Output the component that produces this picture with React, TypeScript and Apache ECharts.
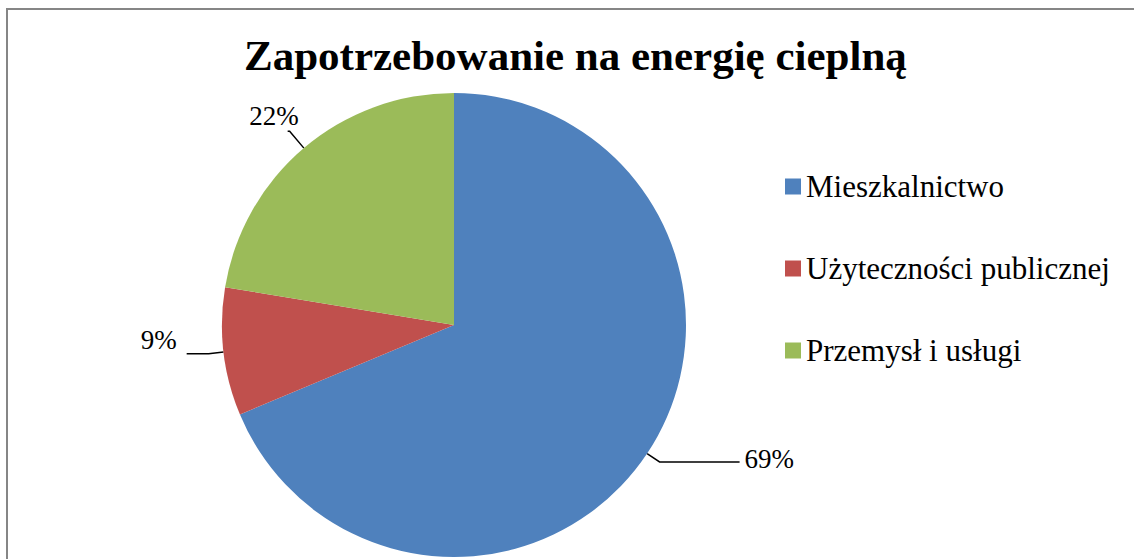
import React, { useEffect, useRef } from "react";
import * as echarts from "echarts";

const titleText = "Zapotrzebowanie na energię cieplną";
const categories = ["Mieszkalnictwo", "Użyteczności publicznej", "Przemysł i usługi"];
const values = [68.7, 8.9, 22.4];
const colors = ["#4F81BD", "#C0504D", "#9BBB59"];
const lineLengths = [
  [15, 80],
  [15, 22],
  [22, 2],
];
const labelShift = [
  [0, -3],
  [-5, -14],
  [16, -15],
];

export default function App() {
  const ref = useRef<HTMLDivElement>(null);
  useEffect(() => {
    if (!ref.current) return;
    const chart = echarts.init(ref.current, undefined, { renderer: "svg" });
    const font = "'Liberation Serif', 'Times New Roman', serif";
    chart.setOption({
      animation: false,
      backgroundColor: "#ffffff",
      title: {
        text: titleText,
        left: 239,
        top: 29,
        textStyle: { fontFamily: font, fontSize: 43, fontWeight: "bold", color: "#000" },
      },
      legend: {
        orient: "vertical",
        left: 780,
        top: 166,
        itemWidth: 16,
        itemHeight: 16,
        itemGap: 51,
        icon: "rect",
        data: categories,
        textStyle: { fontFamily: font, fontSize: 31, color: "#000", lineHeight: 30 },
      },
      graphic: [
        {
          type: "rect",
          shape: { x: 7, y: 9, width: 1140, height: 560 },
          style: { fill: "none", stroke: "#868686", lineWidth: 2 },
          silent: true,
          z: 0,
        },
      ],
      series: [
        {
          type: "pie",
          center: [454, 325],
          radius: 232,
          startAngle: 90,
          clockwise: true,
          avoidLabelOverlap: false,
          label: {
            show: true,
            position: "outside",
            fontFamily: font,
            fontSize: 27,
            color: "#000",
            formatter: (p: any) => Math.round(p.percent) + "%",
          },
          labelLine: { show: true, lineStyle: { color: "#000", width: 1.5 } },
          labelLayout: (p: any) => ({ dx: labelShift[p.dataIndex][0], dy: labelShift[p.dataIndex][1] }),
          data: categories.map((name, i) => ({
            name,
            value: values[i],
            itemStyle: { color: colors[i] },
            labelLine: { length: lineLengths[i][0], length2: lineLengths[i][1] },
          })),
        },
      ],
    });
    return () => chart.dispose();
  }, []);
  return <div ref={ref} style={{ position: "absolute", left: 0, top: 0, width: 1134, height: 559 }} />;
}
